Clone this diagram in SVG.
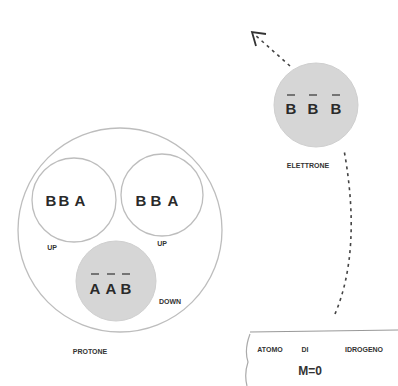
<svg xmlns="http://www.w3.org/2000/svg" width="398" height="386" viewBox="0 0 398 386">
<defs>
<style>
.ring{fill:none;stroke:#bdbdbd;stroke-width:1.3}
.shade{fill:#d6d6d6;stroke:#cfcfcf;stroke-width:1}
.big{font-family:"Liberation Sans",Arial,sans-serif;font-size:15px;font-weight:bold;fill:#2a2a2a;text-anchor:middle}
.small{font-family:"Liberation Sans",Arial,sans-serif;font-size:7px;font-weight:bold;fill:#333;text-anchor:middle}
.bar{stroke:#333;stroke-width:1.2}
.dash{fill:none;stroke:#444;stroke-width:1.6;stroke-dasharray:3 4}
</style>
</defs>
<rect width="398" height="386" fill="#ffffff"/>
<g id="proton">
<circle class="ring" cx="120" cy="230" r="102"/>
<text class="small" x="90" y="354">PROTONE</text>
</g>
<g id="quark-up-left">
<circle class="ring" cx="74" cy="200" r="42"/>
<text class="big" y="206"><tspan x="51">B</tspan><tspan x="64">B</tspan><tspan x="80">A</tspan></text>
<text class="small" x="52" y="250">UP</text>
</g>
<g id="quark-up-right">
<circle class="ring" cx="162" cy="195" r="41"/>
<text class="big" y="206"><tspan x="141">B</tspan><tspan x="156">B</tspan><tspan x="173">A</tspan></text>
<text class="small" x="162" y="246">UP</text>
</g>
<g id="quark-down">
<circle class="shade" cx="116" cy="281" r="40"/>
<text class="big" y="294"><tspan x="95">A</tspan><tspan x="111">A</tspan><tspan x="126">B</tspan></text>
<line class="bar" x1="91" y1="274" x2="99" y2="274"/>
<line class="bar" x1="107" y1="274" x2="115" y2="274"/>
<line class="bar" x1="122" y1="274" x2="130" y2="274"/>
<text class="small" x="170" y="304">DOWN</text>
</g>
<g id="electron">
<circle class="shade" cx="316" cy="105" r="42"/>
<text class="big" y="114"><tspan x="291">B</tspan><tspan x="313">B</tspan><tspan x="336">B</tspan></text>
<line class="bar" x1="287" y1="95" x2="295" y2="95"/>
<line class="bar" x1="309" y1="95" x2="317" y2="95"/>
<line class="bar" x1="332" y1="95" x2="340" y2="95"/>
<text class="small" x="308" y="168">ELETTRONE</text>
</g>
<g id="atom">
<path d="M250 332 L398 330" fill="none" stroke="#999" stroke-width="1.2"/>
<path d="M250 334 Q244 350 248 362 Q244 374 247 386" fill="none" stroke="#aaa" stroke-width="1.2"/>
<text class="small" y="352"><tspan x="270">ATOMO</tspan><tspan x="305">DI</tspan><tspan x="364">IDROGENO</tspan></text>
<text x="310" y="375" font-family="Liberation Sans,Arial,sans-serif" font-size="12" font-weight="bold" fill="#333" text-anchor="middle">M=0</text>
</g>
<g id="connectors">
<path class="dash" d="M335 314 Q362 250 344 150"/>
<path class="dash" d="M290 66 L254 34"/>
<path d="M266 34 L252 32 L256 46" fill="none" stroke="#333" stroke-width="1.8"/>
</g>
</svg>
